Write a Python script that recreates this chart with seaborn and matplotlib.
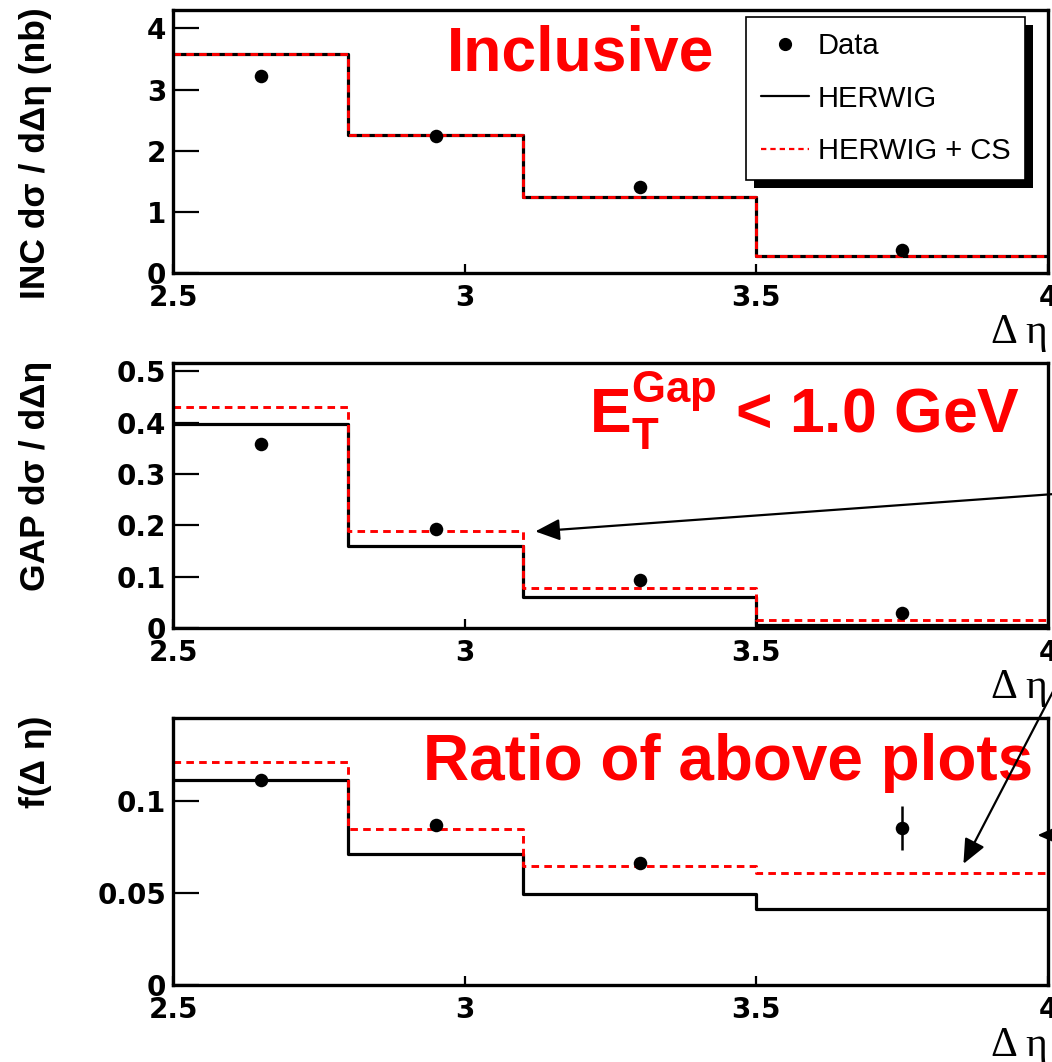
import matplotlib
matplotlib.use("Agg")
import matplotlib.pyplot as plt
from matplotlib.lines import Line2D
from matplotlib.patches import Rectangle
from matplotlib.transforms import IdentityTransform
import seaborn as sns

BIN_EDGES = [2.5, 2.8, 3.1, 3.5, 4.0]
BIN_CENTERS = [2.65, 2.95, 3.3, 3.75]

INC_DATA = [3.22, 2.24, 1.41, 0.38]
INC_HERWIG = [3.58, 2.25, 1.25, 0.28]
INC_HERWIG_CS = [3.58, 2.25, 1.25, 0.28]

GAP_DATA = [0.358, 0.192, 0.093, 0.029]
GAP_HERWIG = [0.397, 0.159, 0.060, 0.006]
GAP_HERWIG_CS = [0.430, 0.188, 0.078, 0.016]

RATIO_DATA = [0.1115, 0.087, 0.0665, 0.0854]
RATIO_ERR = [0.001, 0.002, 0.002, 0.012]
RATIO_HERWIG = [0.1115, 0.0713, 0.0492, 0.0411]
RATIO_HERWIG_CS = [0.121, 0.0848, 0.0645, 0.0609]

X_TICKS = [2.5, 3.0, 3.5, 4.0]
X_TICK_LABELS = ["2.5", "3", "3.5", "4"]
INC_TICKS = [0, 1, 2, 3, 4]
INC_TICK_LABELS = ["0", "1", "2", "3", "4"]
GAP_TICKS = [0, 0.1, 0.2, 0.3, 0.4, 0.5]
GAP_TICK_LABELS = ["0", "0.1", "0.2", "0.3", "0.4", "0.5"]
RATIO_TICKS = [0, 0.05, 0.1]
RATIO_TICK_LABELS = ["0", "0.05", "0.1"]

sns.set_style("white")
plt.rcParams["font.family"] = ["Liberation Sans", "DejaVu Sans"]
plt.rcParams["mathtext.fontset"] = "custom"
plt.rcParams["mathtext.bf"] = "Liberation Sans:bold"
plt.rcParams["mathtext.rm"] = "Liberation Sans:bold"
plt.rcParams["text.color"] = "black"
plt.rcParams["xtick.color"] = "black"
plt.rcParams["ytick.color"] = "black"
plt.rcParams["axes.labelcolor"] = "black"

RED = "#ff0000"
DASH = (0, (2.6, 1.8))
TICK_FONT = dict(fontfamily="DejaVu Sans", fontweight="bold", fontsize=20, color="black")


def draw_panel(ax, data, herwig, herwig_cs, yerr, ymax, yticks, yticklabels, ylabel):
    sns.histplot(x=BIN_CENTERS, weights=herwig, bins=BIN_EDGES, element="step",
                 fill=False, color="black", linewidth=2.3, ax=ax)
    sns.histplot(x=BIN_CENTERS, weights=herwig_cs, bins=BIN_EDGES, element="step",
                 fill=False, color=RED, linewidth=2.1, linestyle=DASH, ax=ax)
    sns.scatterplot(x=BIN_CENTERS, y=data, color="black", s=95, edgecolor="black",
                    linewidth=0, zorder=4, ax=ax)
    if yerr is not None:
        ax.errorbar(BIN_CENTERS, data, yerr=yerr, fmt="none", ecolor="black",
                    elinewidth=1.8, capsize=0, zorder=4)

    ax.set_xlim(2.5, 4.0)
    ax.set_ylim(0, ymax)
    ax.set_xticks(X_TICKS, X_TICK_LABELS, **TICK_FONT)
    ax.set_yticks(yticks, yticklabels, **TICK_FONT)
    ax.tick_params(axis="x", direction="in", length=6.5, width=1.6, pad=8,
                   top=False, bottom=True, color="black")
    ax.tick_params(axis="y", direction="in", length=19, width=1.6, pad=5,
                   right=False, left=True, color="black")
    for spine in ax.spines.values():
        spine.set_linewidth(2.4)
        spine.set_color("black")
    ax.set_xlabel("")
    ax.set_ylabel("")

    # titles sit against the top end of the axis, ROOT style
    ax.text(-0.157, 1.01, ylabel, rotation=90, ha="center", va="top",
            fontsize=25.5, fontweight="bold", color="black", transform=ax.transAxes)
    ax.text(1.0, -0.265, "Δ η", ha="right", va="baseline", fontsize=30, color="black",
            fontfamily=["Liberation Serif", "DejaVu Serif"], transform=ax.transAxes)


fig = plt.figure(figsize=(10.52, 10.62), dpi=100)
ax_inc = fig.add_axes([0.1645, 0.7429, 0.8317, 0.2476])
ax_gap = fig.add_axes([0.1645, 0.4087, 0.8317, 0.2495])
ax_ratio = fig.add_axes([0.1645, 0.0725, 0.8317, 0.2514])

draw_panel(ax_inc, INC_DATA, INC_HERWIG, INC_HERWIG_CS, None, 4.30,
           INC_TICKS, INC_TICK_LABELS, "INC dσ / dΔη (nb)")
draw_panel(ax_gap, GAP_DATA, GAP_HERWIG, GAP_HERWIG_CS, None, 0.516,
           GAP_TICKS, GAP_TICK_LABELS, "GAP dσ / dΔη")
draw_panel(ax_ratio, RATIO_DATA, RATIO_HERWIG, RATIO_HERWIG_CS, RATIO_ERR, 0.145,
           RATIO_TICKS, RATIO_TICK_LABELS, "f(Δ η)")

ax_inc.text(0.466, 0.772, "Inclusive", color=RED, fontsize=45, fontweight="bold",
            ha="center", va="baseline", transform=ax_inc.transAxes)
ax_gap.text(0.968, 0.736, r"$\mathbf{E_{T}^{Gap}}$ < 1.0 GeV", color=RED, fontsize=45,
            fontweight="bold", ha="right", va="baseline", transform=ax_gap.transAxes)
ax_ratio.text(0.634, 0.768, "Ratio of above plots", color=RED, fontsize=46,
              fontweight="bold", ha="center", va="baseline", transform=ax_ratio.transAxes)

# arrows coming in from outside the picture
arrow_kw = dict(arrowstyle="-|>,head_length=0.5,head_width=0.22", color="black",
                lw=1.6, mutation_scale=30, shrinkA=0, shrinkB=0)
ax_gap.annotate("", xy=(3.121, 0.188), xycoords="data",
                xytext=(1110, 572), textcoords="figure pixels",
                arrowprops=arrow_kw, annotation_clip=False)
ax_ratio.annotate("", xy=(3.855, 0.0658), xycoords="data",
                  xytext=(1085, 1062 - 630), textcoords="figure pixels",
                  arrowprops=arrow_kw, annotation_clip=False)
ax_ratio.annotate("", xy=(3.982, 0.0814), xycoords="data",
                  xytext=(1110, 1062 - 835), textcoords="figure pixels",
                  arrowprops=arrow_kw, annotation_clip=False)

handles = [
    Line2D([], [], marker="o", linestyle="none", color="black", markersize=8.5),
    Line2D([], [], color="black", linewidth=1.6),
    Line2D([], [], color=RED, linewidth=1.6, linestyle=(0, (2.4, 1.8))),
]
leg = ax_inc.legend(handles, ["Data", "HERWIG", "HERWIG + CS"], loc="upper left",
                    bbox_to_anchor=(0.655, 0.973), borderaxespad=0, fontsize=21,
                    frameon=True, fancybox=False, edgecolor="black", framealpha=1,
                    handlelength=1.65, handletextpad=0.3, borderpad=0.5,
                    labelspacing=0.85, labelcolor="black")
leg.get_frame().set_linewidth(1.2)
leg.set_zorder(6)

fig.canvas.draw()
bb = leg.get_window_extent(fig.canvas.get_renderer())
shadow = Rectangle((bb.x0 + 8, bb.y0 - 8), bb.width, bb.height, facecolor="black",
                   edgecolor="none", transform=IdentityTransform(), clip_on=False,
                   zorder=5.5)
ax_inc.add_patch(shadow)

fig.savefig("out.png", dpi=100)
